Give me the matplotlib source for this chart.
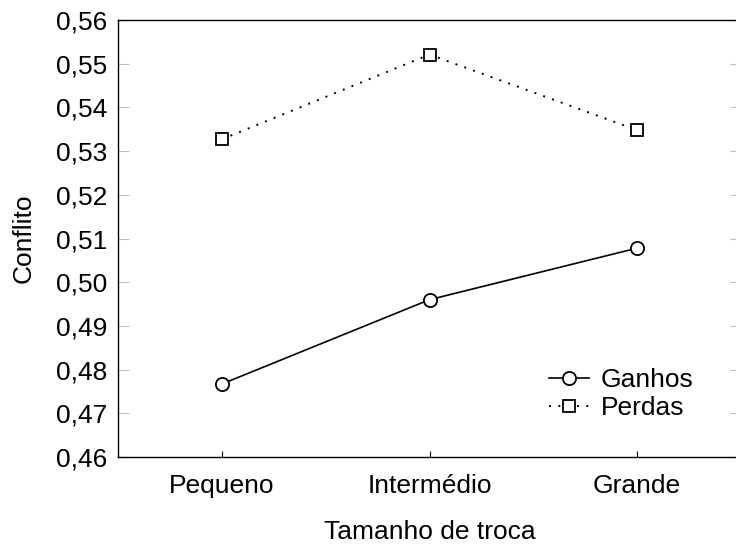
import matplotlib
matplotlib.use("Agg")
import matplotlib.pyplot as plt
from matplotlib.ticker import FuncFormatter, MultipleLocator

# values
categories = ["Pequeno", "Intermédio", "Grande"]
ganhos = [0.4767, 0.4960, 0.5078]
perdas = [0.5327, 0.5521, 0.5348]

plt.rcParams["font.family"] = ["Liberation Sans", "DejaVu Sans"]
plt.rcParams["font.size"] = 19

fig = plt.figure(figsize=(7.36, 5.46), dpi=100)
ax = fig.add_axes([118 / 736, 89 / 546, 623 / 736, 437 / 546])

x = list(range(len(categories)))
ax.plot(x, ganhos, color="black", lw=1.2, marker="o", ms=9.5,
        mfc="white", mec="black", mew=1.3, label="Ganhos")
ax.plot(x, perdas, color="black", lw=1.4, linestyle=(0, (1.0, 3.8)),
        marker="s", ms=8.5, mfc="white", mec="black", mew=1.3, label="Perdas")

ax.set_xlim(-0.5, 2.5)
ax.set_ylim(0.46, 0.56)
ax.set_xticks(x)
ax.set_xticklabels(categories)
ax.yaxis.set_major_locator(MultipleLocator(0.01))
ax.yaxis.set_major_formatter(FuncFormatter(lambda v, p: f"{v:.2f}".replace(".", ",")))

for s in ax.spines.values():
    s.set_linewidth(1.0)
ax.spines["right"].set_visible(False)

ax.tick_params(axis="y", which="both", left=True, right=True,
               direction="out", length=4, width=0.8, pad=8)
ax.tick_params(axis="y", which="both", right=True, direction="in",
               length=8, color="0.75")
ax.tick_params(axis="x", direction="in", length=4, width=0.8, pad=12,
               top=False)

ax.set_xlabel("Tamanho de troca", labelpad=16)
ax.set_ylabel("Conflito", labelpad=14)

ax.legend(loc="upper left", bbox_to_anchor=(0.692, 0.204), frameon=False,
          handlelength=1.5, handletextpad=0.45, labelspacing=0.17,
          borderaxespad=0, borderpad=0)

fig.savefig("out.png", dpi=100)
